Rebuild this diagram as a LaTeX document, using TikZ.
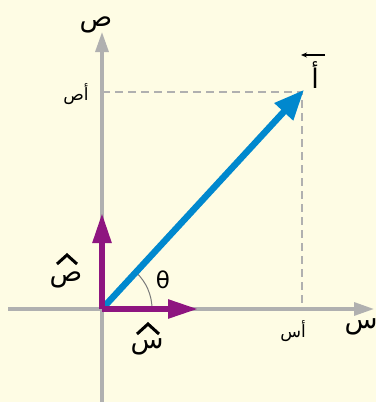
\documentclass[tikz,border=0pt]{standalone}
\usepackage{fontspec}
\setmainfont{DejaVu Sans}
\newfontfamily\arabicfont[Script=Arabic]{DejaVu Sans}
\TeXXeTstate=1
\usetikzlibrary{arrows.meta}
\definecolor{bg}{HTML}{FEFCE4}
\definecolor{axisgray}{HTML}{B0B0B0}
\definecolor{vecblue}{HTML}{0088CE}
\definecolor{unitpurple}{HTML}{8E1580}
\tikzset{
  axisline/.style={draw=axisgray, line width=3.2pt, -{Triangle[length=20pt,width=13pt]}},
  guide/.style={draw=axisgray, line width=1.8pt, dash pattern=on 8pt off 5pt},
  mainvec/.style={draw=vecblue, line width=6.5pt, -{Triangle[length=30pt,width=24pt]}, shorten >=-3pt},
  unitvec/.style={draw=unitpurple, line width=5.5pt, -{Triangle[length=30pt,width=18pt]}},
  biglab/.style={font=\fontsize{27}{31}\selectfont\arabicfont, inner sep=0pt, anchor=base},
  smalllab/.style={font=\fontsize{17}{20}\selectfont\arabicfont, inner sep=0pt, anchor=base},
  hatline/.style={draw=black, line width=3pt, line join=miter}
}
\begin{document}
\begin{tikzpicture}[x=1pt,y=-1pt]
\fill[bg] (0,0) rectangle (376,402);
\useasboundingbox (0,0) rectangle (376,402);
\coordinate (O) at (102,309);
\coordinate (xl) at (8,309);
\coordinate (xr) at (374,309);
\coordinate (yb) at (102,402);
\coordinate (yt) at (102,32);
\coordinate (P) at (302,92);
\coordinate (Px) at (302,309);
\coordinate (Py) at (102,92);
\coordinate (ux) at (198,309);
\coordinate (uy) at (102,213);
% guides
\draw[guide] (Py) -- (P) -- (Px);
% axes
\draw[axisline] (xl) -- (xr);
\draw[axisline] (yb) -- (yt);
% angle arc
\draw[axisgray!70!black, line width=1pt] (152,309) arc[start angle=0, end angle=-47.3, radius=50];
% main vector
\draw[mainvec] (O) -- (P);
% unit vectors
\draw[unitvec] (O) -- (ux);
\draw[unitvec] (O) -- (uy);
% labels
\node[biglab] (ylab) at (96,26) {\beginR ص\endR};
\node[biglab] (xlab) at (361,328) {\beginR س\endR};
\node[smalllab] (aylab) at (76,100) {\beginR أص\endR};
\node[smalllab] (axlab) at (293,337) {\beginR أس\endR};
\node[biglab] (alab) at (315,88) {\beginR أ\endR};
\draw[line width=1.1pt, -{Stealth[length=6pt,width=5pt]}] (325,55) -- (301,55);
\node[font=\fontsize{23}{26}\selectfont, inner sep=0pt] (theta) at (163,280) {θ};
\node[biglab] (yhat) at (66,281) {\beginR ص\endR};
\draw[hatline] (57,264) -- (67,255) -- (77,264);
\node[biglab] (xhat) at (147,348) {\beginR س\endR};
\draw[hatline] (137,334) -- (148,324) -- (159,334);
\end{tikzpicture}
\end{document}
